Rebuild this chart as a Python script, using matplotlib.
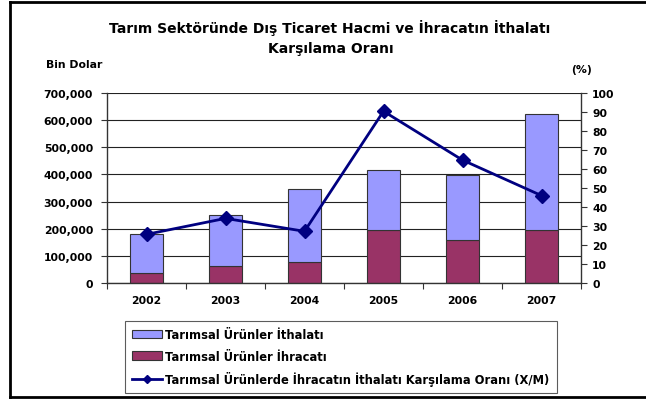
import matplotlib
matplotlib.use("Agg")
import matplotlib.pyplot as plt
from matplotlib.patches import Patch
from matplotlib.lines import Line2D
import numpy as np

plt.rcParams['font.family'] = ['DejaVu Sans']

years = ['2002', '2003', '2004', '2005', '2006', '2007']
exports = [37000, 63000, 76000, 194000, 158000, 194000]
imports = [142000, 186000, 269000, 221000, 241000, 427000]
ratio = [25.6, 34.0, 27.2, 90.4, 64.7, 46.0]
left_ticks = [0, 100000, 200000, 300000, 400000, 500000, 600000, 700000]
right_ticks = [0, 10, 20, 30, 40, 50, 60, 70, 80, 90, 100]

imp_color = '#9999FF'
exp_color = '#993366'
line_color = '#000080'
tfs = 7.8

W, H = 646, 402
fig = plt.figure(figsize=(W / 100, H / 100), dpi=100)
fig.patch.set_facecolor('white')

ax = fig.add_axes([107 / W, 1 - 284 / H, (581 - 107) / W, (284 - 94) / H])
x = np.arange(len(years))
bw = 0.41
ax.bar(x, exports, bw, color=exp_color, edgecolor='#333333', linewidth=0.8, zorder=2)
ax.bar(x, imports, bw, bottom=exports, color=imp_color, edgecolor='#333333', linewidth=0.8, zorder=2)
ax.set_xlim(-0.5, len(years) - 0.5)
ax.set_ylim(0, 700000)
ax.set_yticks(left_ticks)
ax.set_yticklabels([f"{v:,}" for v in left_ticks], fontsize=tfs, fontweight='bold')
ax.yaxis.grid(True, color='#222222', linewidth=0.8, zorder=0)
ax.set_axisbelow(True)
ax.set_xticks(np.arange(-0.5, len(years), 1.0))
ax.set_xticklabels([])
ax.set_xticks(x, minor=True)
ax.set_xticklabels(years, minor=True, fontsize=tfs, fontweight='bold')
ax.tick_params(axis='x', which='major', direction='out', length=4, width=0.8, color='#333333')
ax.tick_params(axis='x', which='minor', length=0, pad=9)
ax.tick_params(axis='y', direction='out', length=4, width=0.8, color='#333333', pad=6)
for s in ['left', 'bottom']:
    ax.spines[s].set_color('#333333')
    ax.spines[s].set_linewidth(1.0)
ax.spines['top'].set_visible(False)
ax.spines['right'].set_visible(False)

ax2 = ax.twinx()
ax2.plot(x, ratio, color=line_color, linewidth=2.0, marker='D', markersize=7, zorder=5)
ax2.set_ylim(0, 100)
ax2.set_yticks(right_ticks)
ax2.set_yticklabels([str(v) for v in right_ticks], fontsize=tfs, fontweight='bold')
ax2.tick_params(axis='y', direction='out', length=4, width=0.8, color='#333333', pad=4)
ax2.spines['right'].set_color('#333333')
ax2.spines['right'].set_linewidth(1.0)
for s in ['top', 'left', 'bottom']:
    ax2.spines[s].set_visible(False)

fig.text(330 / W, 1 - 28 / H, 'Tarım Sektöründe Dış Ticaret Hacmi ve İhracatın İthalatı',
         ha='center', va='center', fontsize=10, fontweight='bold')
fig.text(331 / W, 1 - 49 / H, 'Karşılama Oranı',
         ha='center', va='center', fontsize=10, fontweight='bold')
fig.text(74 / W, 1 - 65 / H, 'Bin Dolar', ha='center', va='center', fontsize=tfs, fontweight='bold')
fig.text(582 / W, 1 - 70 / H, '(%)', ha='center', va='center', fontsize=tfs, fontweight='bold')

handles = [
    Patch(facecolor=imp_color, edgecolor='#333333', linewidth=0.8),
    Patch(facecolor=exp_color, edgecolor='#333333', linewidth=0.8),
    Line2D([0], [0], color=line_color, linewidth=2.0, marker='D', markersize=4.5),
]
labels = ['Tarımsal Ürünler İthalatı', 'Tarımsal Ürünler İhracatı',
          'Tarımsal Ürünlerde İhracatın İthalatı Karşılama Oranı (X/M)']
leg = fig.legend(handles, labels, loc='upper left',
                 bbox_to_anchor=(125 / W, 1 - 322 / H),
                 prop={'size': 8.3, 'weight': 'bold'},
                 frameon=True, fancybox=False, edgecolor='#333333',
                 handlelength=2.6, handleheight=0.7, handletextpad=0.2,
                 labelspacing=0.7, borderpad=0.65, borderaxespad=0)
leg.get_frame().set_linewidth(0.8)

# outer chart frame (right side falls outside the picture)
fx0, fy0, fy1 = 10 / W, 1 - 398 / H, 1 - 3 / H
for xs, ys in [([fx0, fx0], [fy0, fy1]), ([fx0, 1.0], [fy1, fy1]), ([fx0, 1.0], [fy0, fy0])]:
    fig.add_artist(Line2D(xs, ys, transform=fig.transFigure, color='black',
                          linewidth=2.0, solid_capstyle='projecting'))

fig.savefig('out.png', dpi=100)
